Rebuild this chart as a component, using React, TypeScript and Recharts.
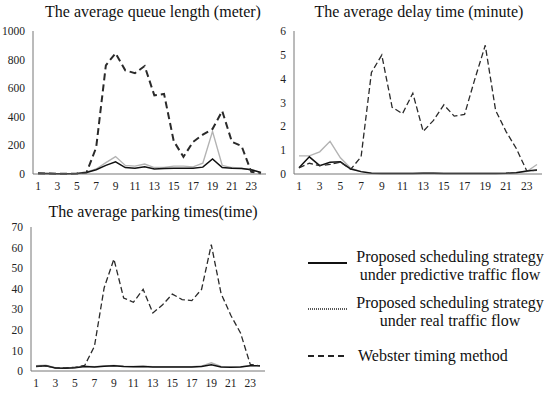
import React from 'react';
import { LineChart, Line, XAxis, YAxis } from 'recharts';

const hours = [1,2,3,4,5,6,7,8,9,10,11,12,13,14,15,16,17,18,19,20,21,22,23,24];

const queuePredictive = [3,3,2,2,3,10,30,60,85,45,40,50,35,38,40,40,40,48,105,45,40,38,30,10];
const queueReal = [2,2,2,2,2,12,35,80,122,60,55,70,45,45,55,55,50,75,298,60,45,40,30,10];
const queueWebster = [5,3,2,2,3,10,185,760,845,725,705,755,550,560,230,120,225,275,315,440,225,195,15,5];

const delayPredictive = [0.26,0.72,0.35,0.49,0.51,0.21,0.1,0.03,0.02,0.02,0.02,0.02,0.03,0.03,0.02,0.02,0.02,0.02,0.02,0.02,0.03,0.05,0.13,0.17];
const delayReal = [0.76,0.76,0.93,1.37,0.68,0.24,0.1,0.04,0.03,0.03,0.03,0.03,0.04,0.04,0.03,0.03,0.03,0.03,0.03,0.03,0.04,0.06,0.1,0.4];
const delayWebster = [0.26,0.45,0.35,0.4,0.5,0.2,0.72,4.26,4.99,2.8,2.53,3.39,1.79,2.25,2.9,2.43,2.5,3.99,5.4,2.67,1.79,1.07,0.14,0.15];

const parkPredictive = [2.2,2.5,1.5,1.3,1.6,2.2,2.0,2.3,2.5,2.2,2.1,2.2,2.0,2.0,2.0,2.0,2.0,2.2,3.0,2.0,1.8,2.0,2.5,2.5];
const parkReal = [2.6,2.8,1.6,1.4,1.7,2.3,2.1,2.4,2.7,2.3,2.2,2.3,2.1,2.1,2.1,2.1,2.1,2.4,4.0,2.2,1.9,2.1,2.6,2.6];
const parkWebster = [2.2,2.5,1.5,1.5,1.8,2.7,12,40.5,54.4,35.5,33.4,39.7,28.2,32.2,37.4,34.7,34.2,39.7,61.4,37.7,27.1,18.5,3.2,2.5];

const queueTicks = [0,200,400,600,800,1000];
const delayTicks = [0,1,2,3,4,5,6];
const parkTicks = [0,10,20,30,40,50,60,70];

const titles = [
  'The average queue length (meter)',
  'The average delay time (minute)',
  'The average parking times(time)',
];
const legendLabels = [
  ['Proposed scheduling strategy', 'under predictive traffic flow'],
  ['Proposed scheduling strategy', 'under real traffic flow'],
  ['Webster timing method'],
];

const build = (a: number[], b: number[], c: number[]) =>
  hours.map((h, i) => ({ hour: h, pred: a[i], real: b[i], web: c[i] }));

const FONT = '"Liberation Serif", "Times New Roman", serif';
const AXIS = '#777';
const tickStyle = { fontSize: 11.5, fill: '#222', fontFamily: FONT, style: { fontFamily: FONT } };

type PanelProps = {
  data: any[];
  ticks: number[];
  width: number;
  height: number;
  yWidth: number;
  margin: { top: number; right: number; bottom: number; left: number };
  pad: number;
  xHeight: number;
  dashWidth: number;
  dash: string;
};

function Panel(p: PanelProps) {
  const max = p.ticks[p.ticks.length - 1];
  return (
    <LineChart width={p.width} height={p.height} data={p.data} margin={p.margin} style={{ fontFamily: FONT }}>
      <XAxis
        dataKey="hour"
        interval={1}
        tickLine={false}
        axisLine={{ stroke: AXIS }}
        tick={tickStyle}
        padding={{ left: p.pad, right: p.pad }}
        height={p.xHeight}
      />
      <XAxis
        xAxisId="top"
        orientation="top"
        dataKey="hour"
        tick={false}
        tickLine={false}
        axisLine={{ stroke: AXIS }}
        height={0}
        padding={{ left: p.pad, right: p.pad }}
      />
      <YAxis
        domain={[0, max]}
        ticks={p.ticks}
        tickLine={false}
        axisLine={{ stroke: AXIS }}
        tick={tickStyle}
        width={p.yWidth}
        interval={0}
      />
      <YAxis
        yAxisId="right"
        orientation="right"
        domain={[0, max]}
        tick={false}
        tickLine={false}
        axisLine={{ stroke: AXIS }}
        width={0}
      />
      <Line dataKey="real" stroke="#b3b3b3" strokeWidth={1.4} dot={false} isAnimationActive={false} />
      <Line dataKey="pred" stroke="#111" strokeWidth={1.5} dot={false} isAnimationActive={false} />
      <Line dataKey="web" stroke="#2a2a2a" strokeWidth={p.dashWidth} strokeDasharray={p.dash} dot={false} isAnimationActive={false} />
    </LineChart>
  );
}

const titleStyle = (left: number, top: number, width: number): React.CSSProperties => ({
  position: 'absolute',
  left,
  top,
  width,
  textAlign: 'center',
  fontSize: 16,
  fontFamily: FONT,
  color: '#111',
  lineHeight: '18px',
  whiteSpace: 'nowrap',
});

const legendText: React.CSSProperties = {
  position: 'absolute',
  fontSize: 16,
  fontFamily: FONT,
  color: '#111',
  lineHeight: '18px',
  whiteSpace: 'nowrap',
};

export default function App() {
  return (
    <div style={{ position: 'absolute', left: 0, top: 0, width: 550, height: 395, background: '#fff', overflow: 'hidden', fontFamily: FONT }}>
      <div style={titleStyle(20, 3, 266)}>{titles[0]}</div>
      <div style={titleStyle(292, 3, 254)}>{titles[1]}</div>
      <div style={titleStyle(20, 203, 266)}>{titles[2]}</div>

      <div style={{ position: 'absolute', left: 0, top: 0 }}>
        <Panel
          data={build(queuePredictive, queueReal, queueWebster)}
          ticks={queueTicks}
          width={275}
          height={195}
          yWidth={33}
          margin={{ top: 31, right: 9, bottom: 0, left: 0 }}
          pad={5}
          xHeight={21}
          dashWidth={2}
          dash="7 4"
        />
      </div>
      <div style={{ position: 'absolute', left: 255, top: 0 }}>
        <Panel
          data={build(delayPredictive, delayReal, delayWebster)}
          ticks={delayTicks}
          width={295}
          height={195}
          yWidth={39}
          margin={{ top: 31, right: 8, bottom: 0, left: 0 }}
          pad={5}
          xHeight={21}
          dashWidth={1.3}
          dash="6 3"
        />
      </div>
      <div style={{ position: 'absolute', left: 0, top: 195 }}>
        <Panel
          data={build(parkPredictive, parkReal, parkWebster)}
          ticks={parkTicks}
          width={275}
          height={200}
          yWidth={31}
          margin={{ top: 32, right: 10, bottom: 0, left: 0 }}
          pad={5}
          xHeight={24}
          dashWidth={1.3}
          dash="6 3"
        />
      </div>

      <svg style={{ position: 'absolute', left: 306, top: 250 }} width={44} height={120}>
        <line x1={2} y1={13} x2={41} y2={13} stroke="#111" strokeWidth={2} />
        <line x1={2} y1={59} x2={41} y2={59} stroke="#222" strokeWidth={1.5} strokeDasharray="1 1" />
        <line x1={2} y1={106} x2={41} y2={106} stroke="#222" strokeWidth={1.8} strokeDasharray="6 4" />
      </svg>

      <div style={{ ...legendText, left: 356, top: 248, width: 188, textAlign: 'center' }}>
        {legendLabels[0][0]}<br />{legendLabels[0][1]}
      </div>
      <div style={{ ...legendText, left: 356, top: 294, width: 188, textAlign: 'center' }}>
        {legendLabels[1][0]}<br />{legendLabels[1][1]}
      </div>
      <div style={{ ...legendText, left: 358, top: 347 }}>{legendLabels[2][0]}</div>
    </div>
  );
}
